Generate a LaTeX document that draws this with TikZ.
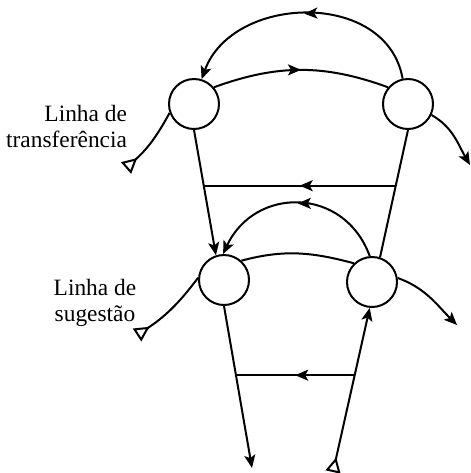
\documentclass[tikz,border=0pt]{standalone}
\usepackage{fontspec}
\setmainfont{Liberation Serif}
\usetikzlibrary{arrows.meta,calc,decorations.markings}

\begin{document}
\begin{tikzpicture}[
  x=0.5pt,y=0.5pt,line width=1pt,
  >={Stealth[length=6.5pt,width=5.5pt,inset=1.5pt]},
  ring/.style={circle,draw,minimum size=25pt,inner sep=0pt},
  arrow/.style={->},
  midtip/.style={postaction={decorate},decoration={markings,mark=at position 0.5 with {\arrow{>}}}},
  delta/.style={{Triangle[open,reversed,length=7.5pt,width=7.5pt]}-},
  deltaarrow/.style={{Triangle[open,reversed,length=7.5pt,width=7.5pt]}->},
  lbl/.style={font=\fontsize{11.7}{13}\selectfont,inner sep=0pt}]
\useasboundingbox (0,0) rectangle (471,-473);
\node[ring] (tl) at (194,-104) {};
\node[ring] (tr) at (408,-104) {};
\node[ring] (bl) at (224,-280) {};
\node[ring] (br) at (372,-282) {};
\node[lbl,align=right,anchor=north east] (transf) at (128,-104) {Linha de\\transferência};
\node[lbl,align=center,anchor=north] (sug) at (95,-278) {Linha de\\sugestão};
\coordinate (tA) at (126,-168);
\coordinate (bA) at (137,-335);
\coordinate (bT) at (333,-472);
\coordinate (bO) at (252,-468);
\coordinate (tO) at (470,-165);
\coordinate (rO) at (457,-325);
\coordinate (hl1) at ($(tl.south)!0.437!(bl.108)$);
\coordinate (hr1) at ($(tr.south)!0.4375!(br.72)$);
\coordinate (hl2) at ($(bl.south)!0.42!(bO)$);
\coordinate (hr2) at ($(br.265)!0.41!(bT)$);
\draw[arrow,midtip] (tr.102) to[out=100,in=70,looseness=1.15] (tl.73);
\draw[midtip] (tl.40) to[out=20,in=160] (tr.140);
\draw[delta] (tA) to[bend right=10] (tl.200);
\draw[arrow] (tr.-25) to[out=-30,in=120] (tO);
\draw[arrow] (tl.south) -- (bl.108);
\draw (tr.south) -- (br.72);
\draw[midtip] (hr1) -- (hr1 -| hl1);
\draw[arrow,midtip] (br.95) to[out=110,in=65,looseness=1.3] (bl.92);
\draw (bl.48) to[out=15,in=165] (br.134);
\draw[delta] (bA) to[bend right=10] (bl.175);
\draw[arrow] (bl.south) -- (bO);
\draw[deltaarrow] (bT) -- (br.265);
\draw[arrow] (br.9) to[out=-20,in=135] (rO);
\draw[midtip] (hr2) -- (hr2 -| hl2);
\end{tikzpicture}
\end{document}
